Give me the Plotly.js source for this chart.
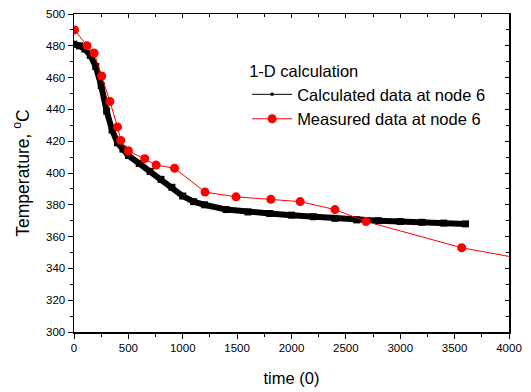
<!DOCTYPE html>
<html>
<head>
<meta charset="utf-8">
<script src="https://cdn.plot.ly/plotly-3.0.1.min.js"></script>
<style>html,body{margin:0;padding:0;background:#fff;}#chart{width:531px;height:392px;}</style>
</head>
<body>
<div id="chart"></div>
<script>
// Calculated data at node 6 (1-D calculation)
var calcTime = [0, 50, 100, 150, 200, 250, 300, 350, 400, 450, 500, 600, 700, 800, 900, 1000, 1100, 1200, 1400, 1600, 1800, 2000, 2200, 2400, 2600, 2800, 3000, 3200, 3400, 3600];
var calcTemp = [481, 480, 478, 474, 467, 455, 439, 427, 419, 415, 411, 406, 401, 396, 391, 385.5, 382, 380, 377, 375.5, 374.5, 373.5, 372.5, 371.5, 370.5, 370, 369.5, 369, 368.5, 368];
// Measured data at node 6
var measTime = [5, 120, 185, 255, 330, 400, 430, 500, 650, 755, 925, 1205, 1490, 1810, 2080, 2400, 2685, 3565, 4200];
var measTemp = [490, 480, 475.5, 461, 445, 429, 420.5, 414, 409, 405, 403, 388, 385, 383.5, 382, 377, 369.5, 353, 345];
var xTicks = [0, 500, 1000, 1500, 2000, 2500, 3000, 3500, 4000];
var yTicks = [300, 320, 340, 360, 380, 400, 420, 440, 460, 480, 500];

var FONT = "Liberation Sans, Arial, sans-serif";

var traces = [
  {
    x: calcTime, y: calcTemp, type: "scatter", mode: "lines+markers",
    name: "Calculated data at node 6", showlegend: false, legendgroup: "c",
    line: {color: "#000", width: 6},
    marker: {symbol: "square", size: 7, color: "#000"}
  },
  {
    x: [null], y: [null], type: "scatter", mode: "lines+markers",
    name: "Calculated data at node 6", legendgroup: "c",
    line: {color: "#000", width: 1},
    marker: {symbol: "square", size: 3, color: "#000"}
  },
  {
    x: measTime, y: measTemp, type: "scatter", mode: "lines+markers",
    name: "Measured data at node 6",
    line: {color: "#ff0000", width: 1},
    marker: {symbol: "circle", size: 9, color: "#ff0000"}
  },
  {
    x: [null], y: [null], xaxis: "x2", yaxis: "y2", showlegend: false, hoverinfo: "skip"
  }
];

var axisCommon = {
  showgrid: false, zeroline: false, showline: true, linecolor: "#000", linewidth: 1.5,
  mirror: true, ticks: "outside", ticklen: 5, tickwidth: 1, tickcolor: "#000",
  tickfont: {family: FONT, size: 11.5, color: "#000"}
};

var layout = {
  width: 531, height: 392,
  margin: {l: 74, r: 22, t: 14, b: 60},
  paper_bgcolor: "#fff", plot_bgcolor: "#fff",
  font: {family: FONT, color: "#000"},
  showlegend: true,
  legend: {
    x: 0.398, y: 0.869, xanchor: "left", yanchor: "top",
    bgcolor: "rgba(0,0,0,0)", borderwidth: 0,
    font: {family: FONT, size: 16.5, color: "#000"},
    title: {text: "1-D calculation", font: {family: FONT, size: 16.5, color: "#000"}},
    tracegroupgap: 0, itemwidth: 40
  },
  xaxis: Object.assign({}, axisCommon, {
    range: [0, 4000], tickvals: xTicks, ticktext: xTicks.map(String),
    minor: {dtick: 250, ticks: "outside", ticklen: 3, tickcolor: "#000"},
    title: {text: "time (0)", font: {family: FONT, size: 16.5, color: "#000"}, standoff: 19}
  }),
  yaxis: Object.assign({}, axisCommon, {
    range: [300, 500], tickvals: yTicks, ticktext: yTicks.map(String),
    minor: {dtick: 10, ticks: "outside", ticklen: 3, tickcolor: "#000"},
    title: {text: "Temperature, <sup>o</sup>C", font: {family: FONT, size: 17.5, color: "#000"}, standoff: 12}
  }),
  xaxis2: {overlaying: "x", range: [0, 4000], tickvals: xTicks, ticks: "inside", ticklen: 4, tickcolor: "#000",
    minor: {dtick: 250, ticks: "inside", ticklen: 3, tickcolor: "#000"},
    showticklabels: false, showgrid: false, zeroline: false, showline: false, side: "top", anchor: "y2"},
  yaxis2: {overlaying: "y", range: [300, 500], tickvals: yTicks, ticks: "inside", ticklen: 4, tickcolor: "#000",
    minor: {dtick: 10, ticks: "inside", ticklen: 3, tickcolor: "#000"},
    showticklabels: false, showgrid: false, zeroline: false, showline: false, side: "right", anchor: "x2"}
};

Plotly.newPlot("chart", traces, layout, {displayModeBar: false, staticPlot: true});
</script>
</body>
</html>
